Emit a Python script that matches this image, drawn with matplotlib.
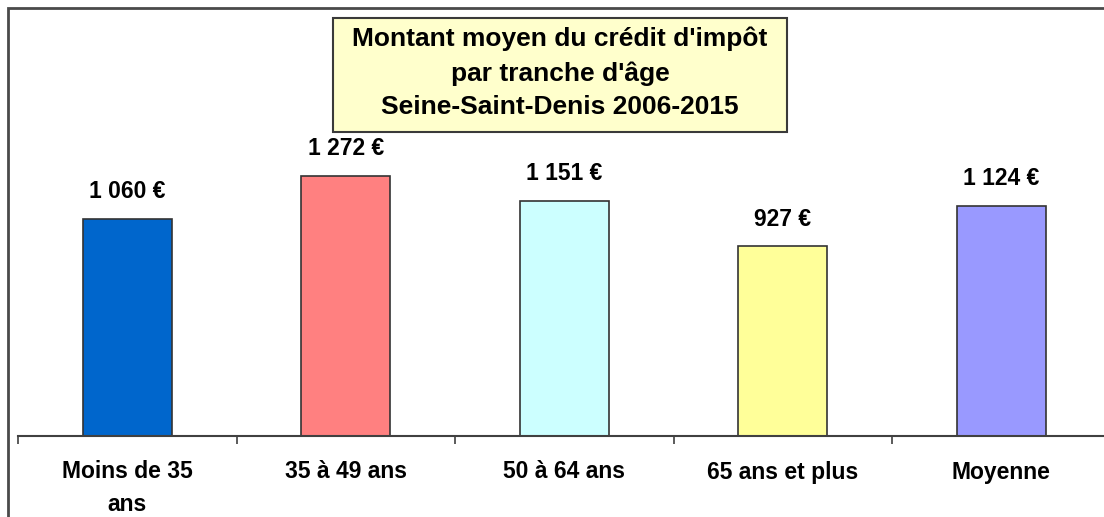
import matplotlib.pyplot as plt
from matplotlib.patches import Rectangle
import numpy as np

categories = ["Moins de 35\nans", "35 à 49 ans", "50 à 64 ans", "65 ans et plus", "Moyenne"]
values = [1060, 1272, 1151, 927, 1124]
value_labels = ["1 060 €", "1 272 €", "1 151 €", "927 €", "1 124 €"]
colors = ["#0066CC", "#FF8080", "#CCFFFF", "#FFFF99", "#9999FF"]
title = "Montant moyen du crédit d'impôt\npar tranche d'âge\nSeine-Saint-Denis 2006-2015"

plt.rcParams['font.family'] = ['Liberation Sans', 'DejaVu Sans']

W, H = 1104, 517
fig = plt.figure(figsize=(W / 100, H / 100), dpi=100)

# outer frame of the chart area (cropped on the right and bottom)
fig.patches.append(Rectangle((8 / W, -0.1), 1.2, 1 - 8 / H + 0.1, transform=fig.transFigure,
                             fill=False, edgecolor="#4a4a4a", linewidth=2, zorder=0))

ax = fig.add_axes([18 / W, (H - 435.5) / H, 1092.5 / W, 427.5 / H])
ax.patch.set_alpha(0)
x = np.arange(len(values))
ax.bar(x, values, width=0.406, color=colors, edgecolor="#333333", linewidth=1.2)
ax.set_xlim(-0.5, len(values) - 0.5)
ax.set_ylim(0, 2095)

for i, (v, lab) in enumerate(zip(values, value_labels)):
    ax.annotate(lab, (i, v), xytext=(0, 15), textcoords="offset points",
                ha="center", va="baseline", fontsize=16.5, fontweight="bold")

for s in ["left", "right", "top"]:
    ax.spines[s].set_visible(False)
ax.spines["bottom"].set_color("#404040")
ax.spines["bottom"].set_linewidth(1.5)
ax.set_yticks([])
ax.set_xticks(np.arange(-0.5, len(values)), [])
ax.tick_params(axis="x", which="major", length=5.5, width=1.2, color="#404040")
ax.set_xticks(x, categories, minor=True)
ax.tick_params(axis="x", which="minor", length=0, pad=18, labelsize=16.5)
for t in ax.get_xticklabels(minor=True):
    t.set_fontweight("bold")
    t.set_linespacing(1.55)

# title box
fig.patches.append(Rectangle((333 / W, 1 - 132 / H), 454 / W, 114 / H, transform=fig.transFigure,
                             facecolor="#FFFFCC", edgecolor="#3a3a3a", linewidth=1.5, zorder=2))
fig.text(560 / W, 1 - 73 / H, title, ha="center", va="center", fontsize=19,
         fontweight="bold", linespacing=1.5, zorder=3)

fig.savefig("out.png", dpi=100)
